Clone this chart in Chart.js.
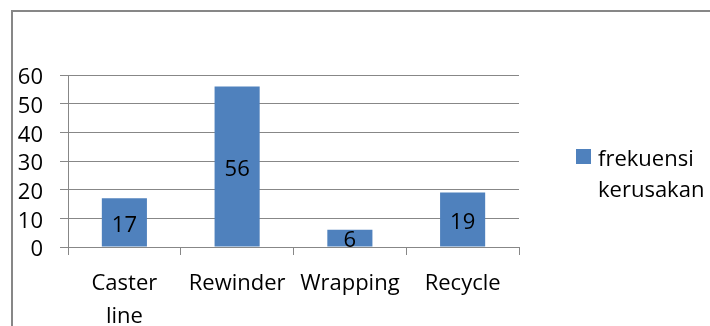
<!DOCTYPE html>
<html>
<head>
<meta charset="utf-8">
<script src="https://cdn.jsdelivr.net/npm/chart.js@4/dist/chart.umd.min.js"></script>
<style>
  html, body { margin: 0; padding: 0; background: #fff; overflow: hidden; }
  #wrap { position: relative; width: 710px; height: 326px; overflow: hidden; }
  #frame { position: absolute; left: 11px; top: 10px; width: 760px; height: 400px; border: 2px solid #878787; box-sizing: border-box; }
  #chartBox { position: absolute; left: 0; top: 0; width: 710px; height: 326px; }
  #legend { position: absolute; left: 576px; top: 142px; font-family: "Open Sans", sans-serif; font-size: 22px; line-height: 31px; color: #000; }
  #legend .sw { position: absolute; left: 0; top: 7px; width: 15px; height: 15px; }
  #legend .tx { position: absolute; left: 22px; top: 0; width: 120px; }
</style>
</head>
<body>
<div id="wrap">
  <div id="frame"></div>
  <div id="chartBox"><canvas id="c"></canvas></div>
  <div id="legend"></div>
</div>
<script>
const categories = ["Caster line", "Rewinder", "Wrapping", "Recycle"];
const seriesName = "frekuensi kerusakan";
const frekuensi = [17, 56, 6, 19];
const yTicks = [0, 10, 20, 30, 40, 50, 60];

const barColor = "#4F81BD";
const gridColor = "#878787";
const fontFamily = "'Open Sans', sans-serif";
const fontSize = 22;

const labels = categories.map(c => c === "Caster line" ? c.split(" ") : c);

const dataLabelPlugin = {
  id: "dataLabels",
  afterDatasetsDraw(chart) {
    const ctx = chart.ctx;
    ctx.save();
    ctx.font = fontSize + "px " + fontFamily;
    ctx.fillStyle = "#000";
    ctx.textAlign = "center";
    ctx.textBaseline = "middle";
    chart.data.datasets.forEach((ds, di) => {
      chart.getDatasetMeta(di).data.forEach((bar, i) => {
        const y = (bar.y + bar.base) / 2 + 3;
        ctx.fillText(String(ds.data[i]), bar.x, y);
      });
    });
    ctx.restore();
  }
};

const chart = new Chart(document.getElementById("c"), {
  type: "bar",
  data: {
    labels: labels,
    datasets: [{
      label: seriesName,
      data: frekuensi,
      backgroundColor: barColor,
      borderWidth: 0,
      categoryPercentage: 1.0,
      barPercentage: 0.4
    }]
  },
  options: {
    responsive: true,
    maintainAspectRatio: false,
    animation: false,
    layout: { padding: { left: 12, top: 75, right: 191, bottom: 0 } },
    plugins: {
      legend: { display: false },
      tooltip: { enabled: false }
    },
    scales: {
      x: {
        grid: { display: true, drawOnChartArea: false, drawTicks: true, tickLength: 8, color: gridColor, lineWidth: 1, offset: true },
        border: { display: true, color: gridColor, width: 1 },
        ticks: { color: "#000", font: { family: fontFamily, size: fontSize, lineHeight: 1.5 }, padding: 12, maxRotation: 0, autoSkip: false },
        afterFit(scale) { scale.height = 79; }
      },
      y: {
        min: 0, max: 60,
        afterBuildTicks(scale) { scale.ticks = yTicks.map(v => ({ value: v })); },
        grid: { display: true, drawOnChartArea: true, drawTicks: true, tickLength: 8, color: gridColor, lineWidth: 1 },
        border: { display: true, color: gridColor, width: 1 },
        ticks: { color: "#000", font: { family: fontFamily, size: fontSize }, padding: 17, labelOffset: 3, autoSkip: false },
        afterFit(scale) { scale.width = 56; }
      }
    }
  },
  plugins: [dataLabelPlugin]
});

const lg = document.getElementById("legend");
chart.data.datasets.forEach(ds => {
  const sw = document.createElement("div");
  sw.className = "sw";
  sw.style.background = ds.backgroundColor;
  const tx = document.createElement("div");
  tx.className = "tx";
  tx.textContent = ds.label;
  lg.appendChild(sw);
  lg.appendChild(tx);
});
</script>
</body>
</html>
